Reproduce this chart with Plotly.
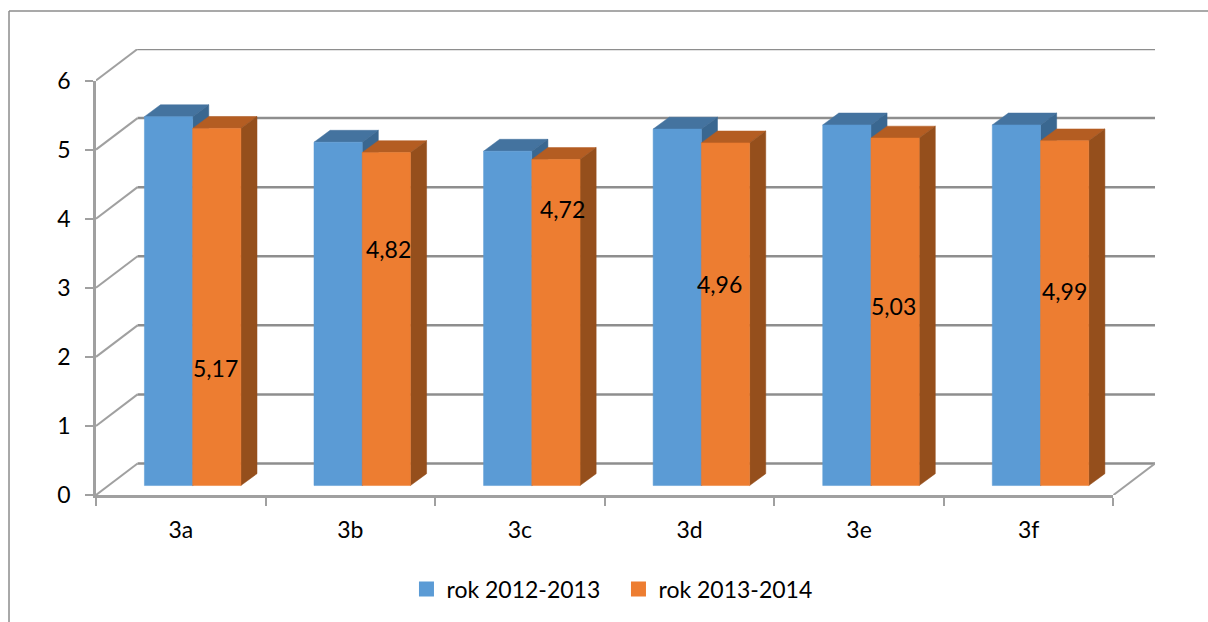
"""
Pseudo-3D grouped columns, rok 2012-2013 vs rok 2013-2014
"""
import plotly.graph_objects as go

categories = ['3a', '3b', '3c', '3d', '3e', '3f']
values_2012 = [5.34, 4.97, 4.84, 5.16, 5.22, 5.22]
values_2013 = [5.17, 4.82, 4.72, 4.96, 5.03, 4.99]
series_names = ['rok 2012-2013', 'rok 2013-2014']
y_ticks = [0, 1, 2, 3, 4, 5, 6]

# hand placed data labels from the original chart (value units, category offset)
label_heights = [1.84, 3.56, 4.14, 3.06, 2.74, 2.96]
label_shifts = [-0.01, 0.01, 0.04, -0.035, -0.01, 0.0]

FONT = 'Lato, Carlito, Calibri, sans-serif'
GRID = '#8e8e8e'
AXIS = '#a0a0a0'
COLORS = {
    'blue': ('#5b9bd5', '#44739f', '#3a6790'),
    'orange': ('#ed7d31', '#b45d22', '#954f1c'),
}

# fake perspective, in axis units
WALL_DX = 0.245
WALL_DY = 0.456
BAR_W = 0.2845
BAR_START = 0.2855
BAR_DX = 0.095
BAR_DY = 0.172
BAR_LIFT = 0.137

n = len(categories)
y_max = y_ticks[-1]

# page layout: front axes inside a plot area that also holds the back wall
W, H = 1208, 622
L, T_FRONT, B = 95.5, 80.5, 124.5
AXIS_W = 1017.5
AXIS_H = H - T_FRONT - B
T = T_FRONT - WALL_DY * AXIS_H / y_max
R = W - L - AXIS_W * (n + WALL_DX) / n
PLOT_W = W - L - R
PLOT_H = H - T - B


def polygons(shapes):
    """Join closed polygons into one x/y list separated by gaps"""
    xs, ys = [], []
    for shape in shapes:
        xs += [p[0] for p in shape] + [shape[0][0], None]
        ys += [p[1] for p in shape] + [shape[0][1], None]
    return xs, ys


def add_faces(fig, shapes, color):
    xs, ys = polygons(shapes)
    fig.add_trace(go.Scatter(
        x=xs, y=ys, mode='lines', fill='toself', fillcolor=color,
        line=dict(color=color, width=0.5), hoverinfo='skip',
        showlegend=False, xaxis='x2', yaxis='y2'
    ))


def add_line(fig, xs, ys, color, width):
    fig.add_trace(go.Scatter(
        x=xs, y=ys, mode='lines', line=dict(color=color, width=width),
        hoverinfo='skip', showlegend=False, xaxis='x2', yaxis='y2'
    ))


def add_bars(fig, values, start, colors):
    """One series: top, side and then front faces"""
    front, top, side = colors
    tops, sides, fronts = [], [], []
    for i, v in enumerate(values):
        x0 = i + start
        x1 = x0 + BAR_W
        y0 = BAR_LIFT
        y1 = BAR_LIFT + v
        fronts.append([(x0, y0), (x1, y0), (x1, y1), (x0, y1)])
        tops.append([(x0, y1), (x1, y1), (x1 + BAR_DX, y1 + BAR_DY), (x0 + BAR_DX, y1 + BAR_DY)])
        sides.append([(x1, y0), (x1 + BAR_DX, y0 + BAR_DY), (x1 + BAR_DX, y1 + BAR_DY), (x1, y1)])
    add_faces(fig, tops, top)
    add_faces(fig, sides, side)
    add_faces(fig, fronts, front)


fig = go.Figure()

# walls and floor
for tick in y_ticks:
    add_line(fig, [0, WALL_DX], [tick, tick + WALL_DY], AXIS, 2)
    add_line(fig, [WALL_DX, n + WALL_DX], [tick + WALL_DY, tick + WALL_DY], GRID, 2.5)
add_line(fig, [n, n + WALL_DX], [0, WALL_DY], AXIS, 2)

add_bars(fig, values_2012, BAR_START, COLORS['blue'])
add_bars(fig, values_2013, BAR_START + BAR_W, COLORS['orange'])

# legend swatches, these also keep the visible axes alive
for name, key in zip(series_names, ['blue', 'orange']):
    fig.add_trace(go.Scatter(
        x=[None], y=[None], mode='markers', name=name,
        marker=dict(symbol='square', size=15, color=COLORS[key][0])
    ))

# data labels of the second series
for i, v in enumerate(values_2013):
    fig.add_annotation(
        x=i + BAR_START + 1.5 * BAR_W + label_shifts[i], y=label_heights[i],
        xref='x2', yref='y2',
        text=f'{v:.2f}'.replace('.', ','), showarrow=False,
        font=dict(family=FONT, size=23, color='#000000')
    )

# chart frame, open on the right and at the bottom
frame_x = (8.5 - L) / PLOT_W
frame_y = 1 + (T - 10.5) / PLOT_H
fig.add_shape(type='line', xref='paper', yref='paper', x0=frame_x, x1=2,
              y0=frame_y, y1=frame_y, line=dict(color='#8c8c8c', width=1.5))
fig.add_shape(type='line', xref='paper', yref='paper', x0=frame_x, x1=frame_x,
              y0=-1, y1=frame_y, line=dict(color='#8c8c8c', width=1.5))

fig.update_layout(
    width=W, height=H,
    margin=dict(l=L, r=R, t=T, b=B),
    paper_bgcolor='white', plot_bgcolor='rgba(0,0,0,0)',
    font=dict(family=FONT, size=23, color='#000000'),
    showlegend=True,
    legend=dict(
        orientation='h', x=(618 - L) / PLOT_W, xanchor='center',
        y=-(592 - (H - B)) / PLOT_H, yanchor='middle',
        itemsizing='trace', entrywidth=167, entrywidthmode='pixels',
        font=dict(family=FONT, size=23), traceorder='normal'
    ),
    xaxis=dict(
        domain=[0, AXIS_W / PLOT_W], range=[0, n], tickmode='array',
        tickvals=[i + 0.5 for i in range(n)], ticktext=categories,
        ticks='outside', ticklen=8, tickcolor='rgba(0,0,0,0)',
        ticklabelstandoff=5,
        showgrid=False, zeroline=False, showline=True, linecolor=AXIS, linewidth=2.5,
        minor=dict(tickmode='array', tickvals=list(range(n + 1)), ticks='outside',
                   ticklen=8, tickcolor=AXIS, tickwidth=1.5, showgrid=False)
    ),
    yaxis=dict(
        domain=[0, AXIS_H / PLOT_H], range=[0, y_max], tickmode='array', tickvals=y_ticks,
        ticks='outside', ticklen=8, tickcolor=AXIS, tickwidth=1.5,
        ticklabelstandoff=10,
        showgrid=False, zeroline=False, showline=True, linecolor=AXIS, linewidth=2.5
    ),
    # same scale as the front axes, stretched to reach the back wall
    xaxis2=dict(domain=[0, 1], range=[0, n + WALL_DX], visible=False, anchor='y2'),
    yaxis2=dict(domain=[0, 1], range=[0, y_max + WALL_DY], visible=False, anchor='x2')
)

fig.write_html("out.html", config=dict(displayModeBar=False),
               post_script="document.body.style.margin='0';")
